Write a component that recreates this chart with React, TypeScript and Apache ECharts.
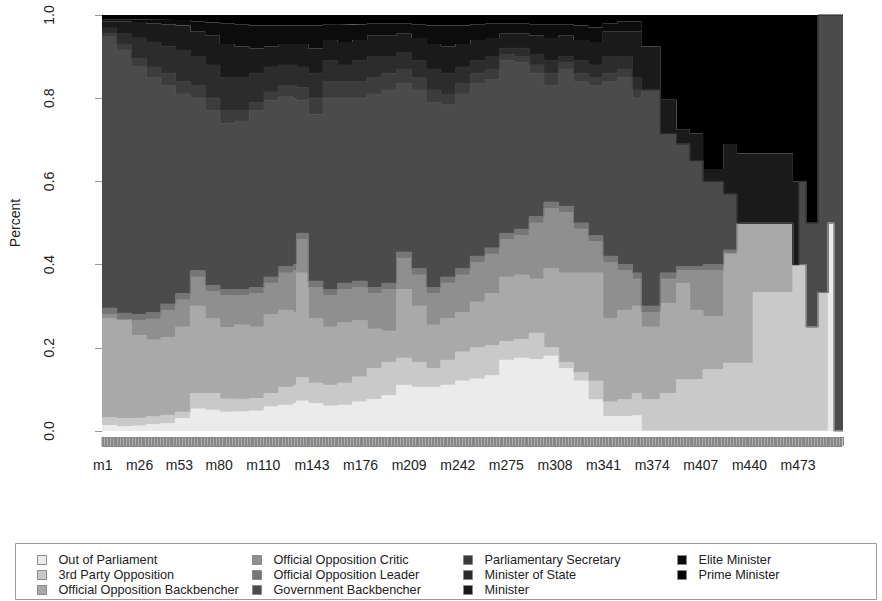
import { useEffect, useRef } from "react";
import * as echarts from "echarts";

const FONT = "'Liberation Sans', Arial, Helvetica, sans-serif";

const categoryNames = [
  "Out of Parliament",
  "3rd Party Opposition",
  "Official Opposition Backbencher",
  "Official Opposition Critic",
  "Official Opposition Leader",
  "Government Backbencher",
  "Parliamentary Secretary",
  "Minister of State",
  "Minister",
  "Elite Minister",
  "Prime Minister",
];
const categoryColors = [
  "#ebebeb", "#c9c9c9", "#a9a9a9", "#8f8f8f", "#767676", "#4b4b4b",
  "#3c3c3c", "#2c2c2c", "#1a1a1a", "#0c0c0c", "#000000",
];

const monthCount = 503;
const monthLabels = Array.from({ length: monthCount }, (_, i) => `m${i + 1}`);
const shownTickLabels = [
  "m1", "m26", "m53", "m80", "m110", "m143", "m176", "m209", "m242",
  "m275", "m308", "m341", "m374", "m407", "m440", "m473",
];
const yTickLabels = ["0.0", "0.2", "0.4", "0.6", "0.8", "1.0"];

// month at which each read step starts
const stepStartMonth = [
  1, 11, 21, 31, 41, 51, 61, 71, 81, 91, 101, 111, 121, 131, 133, 141, 151, 161, 171, 181, 191,
  201, 211, 221, 231, 241, 251, 261, 271, 281, 291, 301, 311, 321, 331, 341, 351, 361,
  367, 380, 391, 400, 409, 423, 432, 443, 470, 474, 479, 487, 494, 498,
];

// cumulative upper edge of each category (share of members in that category or below)
const upperOutOfParliament = [
  .013, .010, .012, .015, .018, .030, .053, .050, .045, .046, .048, .058, .062, .066, .072, .066, .060, .062, .070, .076, .085,
  .110, .105, .105, .110, .120, .125, .133, .170, .175, .172, .180, .150, .120, .075, .035, .035, .037,
  0, 0, 0, 0, 0, 0, 0, 0, 0, 0, 0, 0, .5, 0,
];
const upperThirdParty = [
  .032, .030, .031, .034, .038, .045, .090, .090, .077, .076, .078, .090, .105, .110, .128, .115, .110, .115, .130, .150, .165,
  .175, .165, .150, .170, .190, .200, .205, .215, .220, .235, .200, .165, .140, .120, .070, .075, .090,
  .075, .090, .123, .123, .147, .163, .163, .333, .400, .400, .250, .333, .5, 0,
];
const upperOppBackbencher = [
  .270, .267, .230, .219, .225, .250, .300, .270, .248, .255, .250, .280, .290, .285, .380, .270, .250, .260, .265, .245, .240,
  .340, .300, .255, .270, .285, .310, .330, .370, .375, .365, .390, .380, .380, .380, .270, .290, .300,
  .250, .307, .355, .290, .275, .427, .500, .500, .400, .400, .250, .333, .5, 0,
];
const upperOppCritic = [
  .280, .268, .265, .269, .290, .315, .370, .335, .325, .325, .330, .355, .380, .385, .460, .345, .325, .340, .345, .330, .340,
  .415, .375, .330, .355, .375, .405, .425, .460, .470, .500, .535, .525, .485, .455, .405, .385, .365,
  .285, .365, .385, .385, .385, .427, .500, .500, .400, .400, .250, .333, .5, 0,
];
const upperOppLeader = [
  .295, .283, .280, .284, .305, .330, .385, .350, .340, .340, .345, .370, .395, .400, .475, .360, .340, .355, .360, .345, .355,
  .430, .390, .345, .370, .390, .420, .440, .475, .485, .515, .550, .540, .500, .470, .420, .400, .380,
  .300, .380, .395, .395, .400, .435, .500, .500, .400, .400, .250, .333, .5, 0,
];
const upperGovBackbencher = [
  .948, .916, .876, .850, .830, .810, .800, .770, .740, .745, .770, .795, .804, .800, .795, .760, .800, .800, .800, .810, .820,
  .835, .820, .790, .785, .810, .835, .845, .890, .885, .860, .830, .870, .840, .830, .840, .850, .800,
  .820, .715, .690, .650, .600, .570, .500, .500, .400, .600, .500, 1, 1, 1,
];
const upperParlSecretary = [
  .955, .930, .895, .875, .860, .840, .830, .800, .770, .770, .790, .815, .830, .830, .825, .800, .840, .840, .840, .850, .860,
  .870, .850, .820, .810, .835, .860, .870, .905, .900, .880, .860, .885, .860, .850, .860, .870, .820,
  .820, .715, .690, .650, .600, .570, .500, .500, .400, .600, .500, 1, 1, 1,
];
const upperMinisterOfState = [
  .969, .955, .945, .935, .925, .915, .900, .880, .850, .850, .860, .875, .880, .880, .875, .860, .890, .880, .890, .900, .900,
  .910, .890, .870, .860, .875, .890, .900, .920, .920, .905, .890, .900, .890, .880, .900, .900, .850,
  .820, .715, .690, .650, .600, .570, .500, .500, .400, .600, .500, 1, 1, 1,
];
const upperMinister = [
  .985, .985, .983, .980, .978, .975, .960, .950, .930, .925, .920, .925, .930, .930, .930, .920, .940, .935, .940, .950, .950,
  .955, .945, .930, .925, .930, .940, .945, .955, .955, .950, .945, .950, .940, .935, .960, .960, .960,
  .924, .796, .724, .716, .630, .690, .667, .667, .600, .600, .500, 1, 1, 1,
];
const upperEliteMinister = [
  .990, .990, .990, .990, .989, .988, .985, .982, .980, .978, .975, .975, .975, .975, .975, .975, .978, .977, .978, .980, .980,
  .980, .978, .975, .975, .975, .978, .980, .980, .980, .978, .978, .978, .975, .970, .980, .985, .985,
  .924, .796, .724, .716, .630, .690, .667, .667, .600, .600, .500, 1, 1, 1,
];
const upperPrimeMinister = [
  1, 1, 1, 1, 1, 1, 1, 1, 1, 1, 1, 1, 1, 1, 1, 1, 1, 1, 1, 1, 1,
  1, 1, 1, 1, 1, 1, 1, 1, 1, 1, 1, 1, 1, 1, 1, 1, 1,
  1, 1, 1, 1, 1, 1, 1, 1, 1, 1, 1, 1, 1, 1,
];

const upperEdges = [
  upperOutOfParliament, upperThirdParty, upperOppBackbencher, upperOppCritic, upperOppLeader,
  upperGovBackbencher, upperParlSecretary, upperMinisterOfState, upperMinister, upperEliteMinister,
  upperPrimeMinister,
];

const legendColumns = [[0, 1, 2], [3, 4, 5], [6, 7, 8], [9, 10]];
const legendLefts = [37, 252, 463, 677];

function buildOption() {
  const lastIndex = upperEdges.length - 1;
  const series = upperEdges.map((edge, k) => {
    const shares = edge.map((v, i) => +(v - (k ? upperEdges[k - 1][i] : 0)).toFixed(3));
    const data = stepStartMonth.map((m, i) => [shares[i], m - 1]);
    data.push([shares[shares.length - 1], monthCount]);
    return {
      name: categoryNames[k],
      type: "line",
      stack: "share",
      step: "end",
      xAxisIndex: 0,
      yAxisIndex: 0,
      encode: { x: 1, y: 0 },
      symbol: "none",
      silent: true,
      color: categoryColors[k],
      itemStyle: { color: categoryColors[k] },
      lineStyle: { width: k >= lastIndex - 2 ? 0 : 1, color: categoryColors[k] },
      areaStyle: { color: categoryColors[k], opacity: 1 },
      data,
    };
  });

  return {
    animation: false,
    backgroundColor: "#ffffff",
    textStyle: { fontFamily: FONT },
    grid: { left: 102, right: 39, top: 15, bottom: 170 },
    xAxis: [
      { type: "value", position: "top", min: 0, max: monthCount, show: false },
      {
        type: "category",
        position: "bottom",
        offset: 6,
        data: monthLabels,
        boundaryGap: true,
        axisLine: { show: true, lineStyle: { color: "#8a8a8a", width: 1 } },
        axisTick: { show: true, interval: 0, length: 9, lineStyle: { color: "#888888", width: 1 } },
        axisLabel: {
          interval: (_i: number, v: string) => shownTickLabels.includes(v),
          margin: 21,
          fontSize: 14,
          color: "#222222",
          fontFamily: FONT,
        },
        splitLine: { show: false },
      },
    ],
    yAxis: {
      type: "value",
      min: 0,
      max: 1,
      interval: 0.2,
      offset: 29,
      name: "Percent",
      nameLocation: "middle",
      nameRotate: 90,
      nameGap: 51,
      nameTextStyle: { fontSize: 14, color: "#222222", fontFamily: FONT },
      axisLine: { show: true, lineStyle: { color: "#999999" } },
      axisTick: { show: true, length: 7, lineStyle: { color: "#999999" } },
      axisLabel: {
        rotate: 90,
        margin: 17,
        fontSize: 14,
        color: "#222222",
        fontFamily: FONT,
        formatter: (v: number) => yTickLabels[Math.round(v * 5)] ?? "",
      },
      splitLine: { show: false },
    },
    legend: legendColumns.map((col, c) => ({
      orient: "vertical",
      left: legendLefts[c],
      top: 552.5,
      padding: 0,
      itemGap: 0,
      itemWidth: 9,
      itemHeight: 9,
      icon: "rect",
      selectedMode: false,
      data: col.map((i) => categoryNames[i]),
      itemStyle: { borderColor: "#8a8a8a", borderWidth: 1 },
      textStyle: {
        fontFamily: FONT,
        fontSize: 12.7,
        color: "#222222",
        lineHeight: 15,
        padding: [0, 0, 0, 7],
      },
    })),
    graphic: [
      {
        type: "rect",
        z: -1,
        shape: { x: 102, y: 437.5, width: 740, height: 9 },
        style: { fill: "#ababab", stroke: "#8a8a8a", lineWidth: 1 },
      },
      {
        type: "rect",
        shape: { x: 15.5, y: 543.5, width: 861, height: 56 },
        style: { fill: "none", stroke: "#9a9a9a", lineWidth: 1 },
      },
    ],
    series,
  };
}

export default function App() {
  const ref = useRef<HTMLDivElement>(null);
  useEffect(() => {
    const chart = echarts.init(ref.current as HTMLDivElement, null, { renderer: "svg" });
    chart.setOption(buildOption() as any);
    return () => chart.dispose();
  }, []);
  return (
    <div
      ref={ref}
      style={{ position: "fixed", left: 0, top: 0, width: 882, height: 601, background: "#ffffff" }}
    />
  );
}
